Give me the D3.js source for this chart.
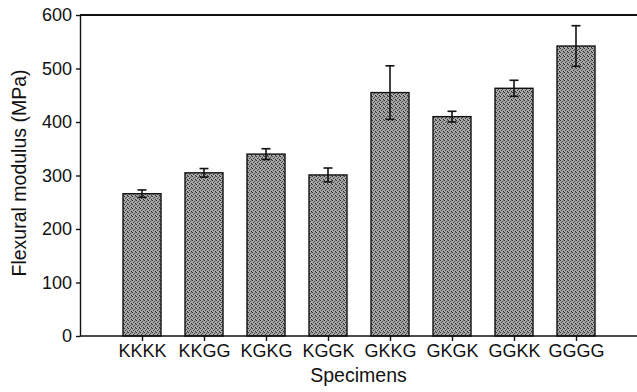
<!DOCTYPE html>
<html>
<head>
<meta charset="utf-8">
<script src="https://cdn.jsdelivr.net/npm/d3@7"></script>
<style>
  body { margin: 0; background: #fff; }
  text { font-family: "Liberation Sans", Arial, sans-serif; fill: #111; }
</style>
</head>
<body>
<div id="chart"></div>
<script>
// chart size
var width = 637;
var height = 392;

// data
var specimens = ["KKKK", "KKGG", "KGKG", "KGGK", "GKKG", "GKGK", "GGKK", "GGGG"];
var modulus = [266, 305, 340, 301, 455, 410, 463, 542];
var modulusErr = [7, 8, 10, 13, 50, 10, 15, 38];
var yTicks = [0, 100, 200, 300, 400, 500, 600];

var margin = {top: 15, right: 0, bottom: 56, left: 80};

var svg = d3.select("#chart")
  .append("svg")
  .attr("width", width)
  .attr("height", height);

// stippled grey fill like the printed bars
var defs = svg.append("defs");
var pat = defs.append("pattern")
  .attr("id", "stipple")
  .attr("patternUnits", "userSpaceOnUse")
  .attr("width", 4)
  .attr("height", 4);
pat.append("rect").attr("width", 4).attr("height", 4).attr("fill", "#a8a8a8");
pat.append("rect").attr("x", 0).attr("y", 0).attr("width", 1).attr("height", 1).attr("fill", "#333");
pat.append("rect").attr("x", 2).attr("y", 1).attr("width", 1).attr("height", 1).attr("fill", "#4a4a4a");
pat.append("rect").attr("x", 1).attr("y", 2).attr("width", 1).attr("height", 1).attr("fill", "#3c3c3c");
pat.append("rect").attr("x", 3).attr("y", 3).attr("width", 1).attr("height", 1).attr("fill", "#2e2e2e");
pat.append("rect").attr("x", 3).attr("y", 0).attr("width", 1).attr("height", 1).attr("fill", "#777");

var x = d3.scalePoint()
  .domain(specimens)
  .range([margin.left, width - margin.right + 1])
  .padding(1);

var y = d3.scaleLinear()
  .domain([0, 600])
  .range([height - margin.bottom, margin.top]);

var barWidth = 38;

// bars
svg.selectAll("rect.bar")
  .data(specimens)
  .enter()
  .append("rect")
  .attr("class", "bar")
  .attr("x", function(d) { return x(d) - barWidth / 2; })
  .attr("y", function(d, i) { return y(modulus[i]); })
  .attr("width", barWidth)
  .attr("height", function(d, i) { return y(0) - y(modulus[i]); })
  .style("fill", "url(#stipple)")
  .style("stroke", "#111")
  .style("stroke-width", 1.4);

// error bars
var errs = svg.selectAll("g.err")
  .data(specimens)
  .enter()
  .append("g")
  .attr("class", "err")
  .style("stroke", "#111")
  .style("stroke-width", 1.6);

errs.append("line")
  .attr("x1", function(d) { return x(d); })
  .attr("x2", function(d) { return x(d); })
  .attr("y1", function(d, i) { return y(modulus[i] - modulusErr[i]); })
  .attr("y2", function(d, i) { return y(modulus[i] + modulusErr[i]); });

errs.append("line")
  .attr("x1", function(d) { return x(d) - 4.5; })
  .attr("x2", function(d) { return x(d) + 4.5; })
  .attr("y1", function(d, i) { return y(modulus[i] + modulusErr[i]); })
  .attr("y2", function(d, i) { return y(modulus[i] + modulusErr[i]); });

errs.append("line")
  .attr("x1", function(d) { return x(d) - 4.5; })
  .attr("x2", function(d) { return x(d) + 4.5; })
  .attr("y1", function(d, i) { return y(modulus[i] - modulusErr[i]); })
  .attr("y2", function(d, i) { return y(modulus[i] - modulusErr[i]); });

// axes
var xAxis = svg.append("g")
  .attr("transform", "translate(0," + y(0) + ")")
  .call(d3.axisBottom(x).tickSize(5).tickPadding(3));
xAxis.select(".domain")
  .attr("d", "M" + margin.left + ",0H" + width)
  .style("stroke", "#111")
  .style("stroke-width", 1.6);
xAxis.selectAll("line").style("stroke", "#111").style("stroke-width", 1.4);
xAxis.selectAll("text").style("font-size", "18px").style("fill", "#111");

var yAxis = svg.append("g")
  .attr("transform", "translate(" + margin.left + ",0)")
  .call(d3.axisLeft(y).tickValues(yTicks).tickSize(4).tickPadding(4).tickSizeOuter(0));
yAxis.select(".domain").style("stroke", "#111").style("stroke-width", 1.4);
yAxis.selectAll("line").style("stroke", "#111").style("stroke-width", 1.4);
yAxis.selectAll("text").style("font-size", "18px").style("fill", "#111");

// top frame line
svg.append("line")
  .attr("x1", margin.left)
  .attr("x2", width)
  .attr("y1", y(600))
  .attr("y2", y(600))
  .style("stroke", "#111")
  .style("stroke-width", 2);

// axis titles
svg.append("text")
  .attr("x", (margin.left + width) / 2)
  .attr("y", 382)
  .attr("text-anchor", "middle")
  .style("font-size", "19.5px")
  .text("Specimens");

svg.append("text")
  .attr("transform", "translate(26,173) rotate(-90)")
  .attr("text-anchor", "middle")
  .style("font-size", "19.5px")
  .text("Flexural modulus (MPa)");
</script>
</body>
</html>
